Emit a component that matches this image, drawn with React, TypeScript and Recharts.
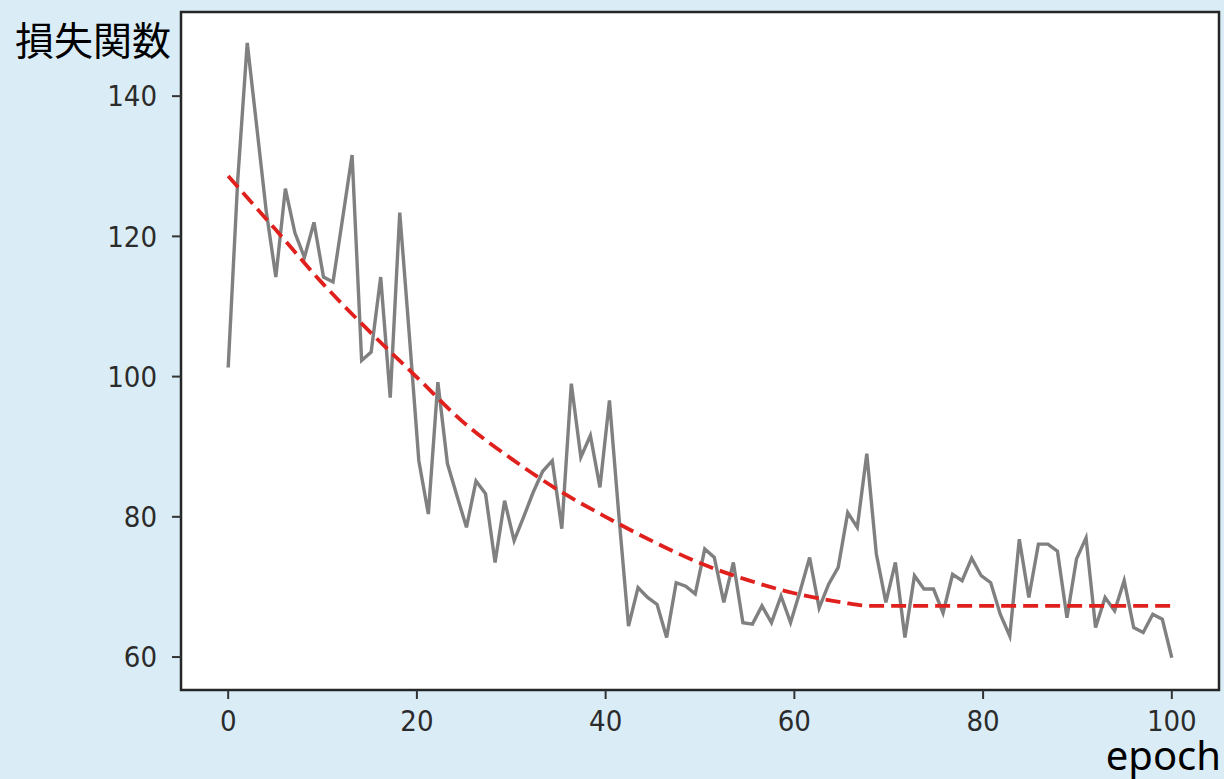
import {
  ComposedChart,
  CartesianGrid,
  Line,
  ReferenceArea,
  XAxis,
  YAxis,
} from "recharts";

// loss per epoch (100 samples spread over 0..100)
const lossValues = [
  101.3, 128, 147.6, 135.6, 123.5, 114.2, 126.8, 120.5, 117, 122,
  114.2, 113.5, 122.5, 131.6, 102.3, 103.5, 114.2, 97, 123.4, 106,
  88, 80.4, 99.2, 87.6, 83, 78.5, 85.1, 83.3, 73.5, 82.3,
  76.6, 80, 83.5, 86.5, 88, 78.3, 99, 88.5, 91.6, 84.2,
  96.6, 80, 64.4, 69.9, 68.5, 67.5, 62.8, 70.6, 70.1, 69,
  75.4, 74.2, 67.8, 73.5, 64.9, 64.7, 67.3, 64.9, 68.7, 64.9,
  69.4, 74.2, 67, 70.4, 72.8, 80.6, 78.5, 89, 74.7, 67.8,
  73.5, 62.8, 71.6, 69.7, 69.7, 66.3, 71.8, 70.9, 74.1, 71.6,
  70.6, 66.1, 63, 76.8, 68.5, 76.1, 76.1, 75.1, 65.6, 74,
  77, 64.2, 68.5, 66.6, 70.9, 64.2, 63.5, 66.1, 65.4, 59.9,
];

// fitted curve (red dashed), read at these epochs
const fitEpochs = [0, 5, 10, 15, 20, 25, 30, 35, 40, 45, 50, 55, 60, 65, 68, 80, 90, 100];
const fitValues = [128.6, 121, 113.3, 106.4, 99.9, 93.4, 88.3, 83.8, 80, 76.5, 73.4, 71, 69.1, 67.8, 67.3, 67.3, 67.3, 67.3];

const xTicks = [0, 20, 40, 60, 80, 100];
const yTicks = [60, 80, 100, 120, 140];

const X_DOMAIN: [number, number] = [-5, 105];
const Y_DOMAIN: [number, number] = [55.3, 152];

type Row = { x: number; loss?: number; fit?: number };

function buildRows(): Row[] {
  const rows: Row[] = lossValues.map((v, i) => ({ x: (i * 100) / 99, loss: v }));
  fitEpochs.forEach((e, i) => rows.push({ x: e, fit: fitValues[i] }));
  return rows.sort((a, b) => a.x - b.x);
}

const tickStyle = {
  fill: "#2b2b2b",
  fontSize: 29,
  fontFamily: "'DejaVu Sans Condensed', 'DejaVu Sans', sans-serif",
};

export default function App() {
  const data = buildRows();

  return (
    <div
      style={{
        position: "absolute",
        left: 0,
        top: 0,
        width: 1224,
        height: 779,
        background: "#daedf7",
        overflow: "hidden",
      }}
    >
      <ComposedChart
        width={1224}
        height={779}
        data={data}
        margin={{ top: 12, right: 5, bottom: 39, left: 121 }}
      >
        <ReferenceArea
          x1={X_DOMAIN[0]}
          x2={X_DOMAIN[1]}
          y1={Y_DOMAIN[0]}
          y2={Y_DOMAIN[1]}
          fill="#ffffff"
          fillOpacity={1}
          stroke="none"
          ifOverflow="visible"
        />
        <CartesianGrid stroke="#b0b0b0" strokeWidth={1.8} />
        <XAxis
          dataKey="x"
          type="number"
          domain={X_DOMAIN}
          ticks={xTicks}
          allowDataOverflow
          height={50}
          axisLine={false}
          tickLine={{ stroke: "#333", strokeWidth: 2 }}
          tickSize={9}
          tickMargin={11}
          tick={tickStyle}
        />
        <YAxis
          type="number"
          domain={Y_DOMAIN}
          ticks={yTicks}
          allowDataOverflow
          width={60}
          axisLine={false}
          tickLine={{ stroke: "#333", strokeWidth: 2 }}
          tickSize={9}
          tickMargin={15}
          tick={tickStyle}
        />
        <Line
          type="linear"
          dataKey="loss"
          stroke="#808080"
          strokeWidth={3.4}
          dot={false}
          connectNulls
          isAnimationActive={false}
        />
        <Line
          type="monotone"
          dataKey="fit"
          stroke="#e0201c"
          strokeWidth={3.8}
          strokeDasharray="15 7"
          dot={false}
          connectNulls
          isAnimationActive={false}
        />
        <ReferenceArea
          x1={X_DOMAIN[0]}
          x2={X_DOMAIN[1]}
          y1={Y_DOMAIN[0]}
          y2={Y_DOMAIN[1]}
          fill="none"
          stroke="#262626"
          strokeWidth={2.5}
          ifOverflow="visible"
        />
      </ComposedChart>
      <div
        style={{
          position: "absolute",
          left: 15,
          top: 14,
          fontSize: 39,
          lineHeight: "48px",
          color: "#000",
          fontFamily: "'Noto Sans CJK JP', sans-serif",
        }}
      >
        損失関数
      </div>
      <div
        style={{
          position: "absolute",
          right: 3,
          top: 735,
          fontSize: 40,
          lineHeight: "40px",
          color: "#000",
          fontFamily: "'Noto Sans', sans-serif",
        }}
      >
        epoch
      </div>
    </div>
  );
}
